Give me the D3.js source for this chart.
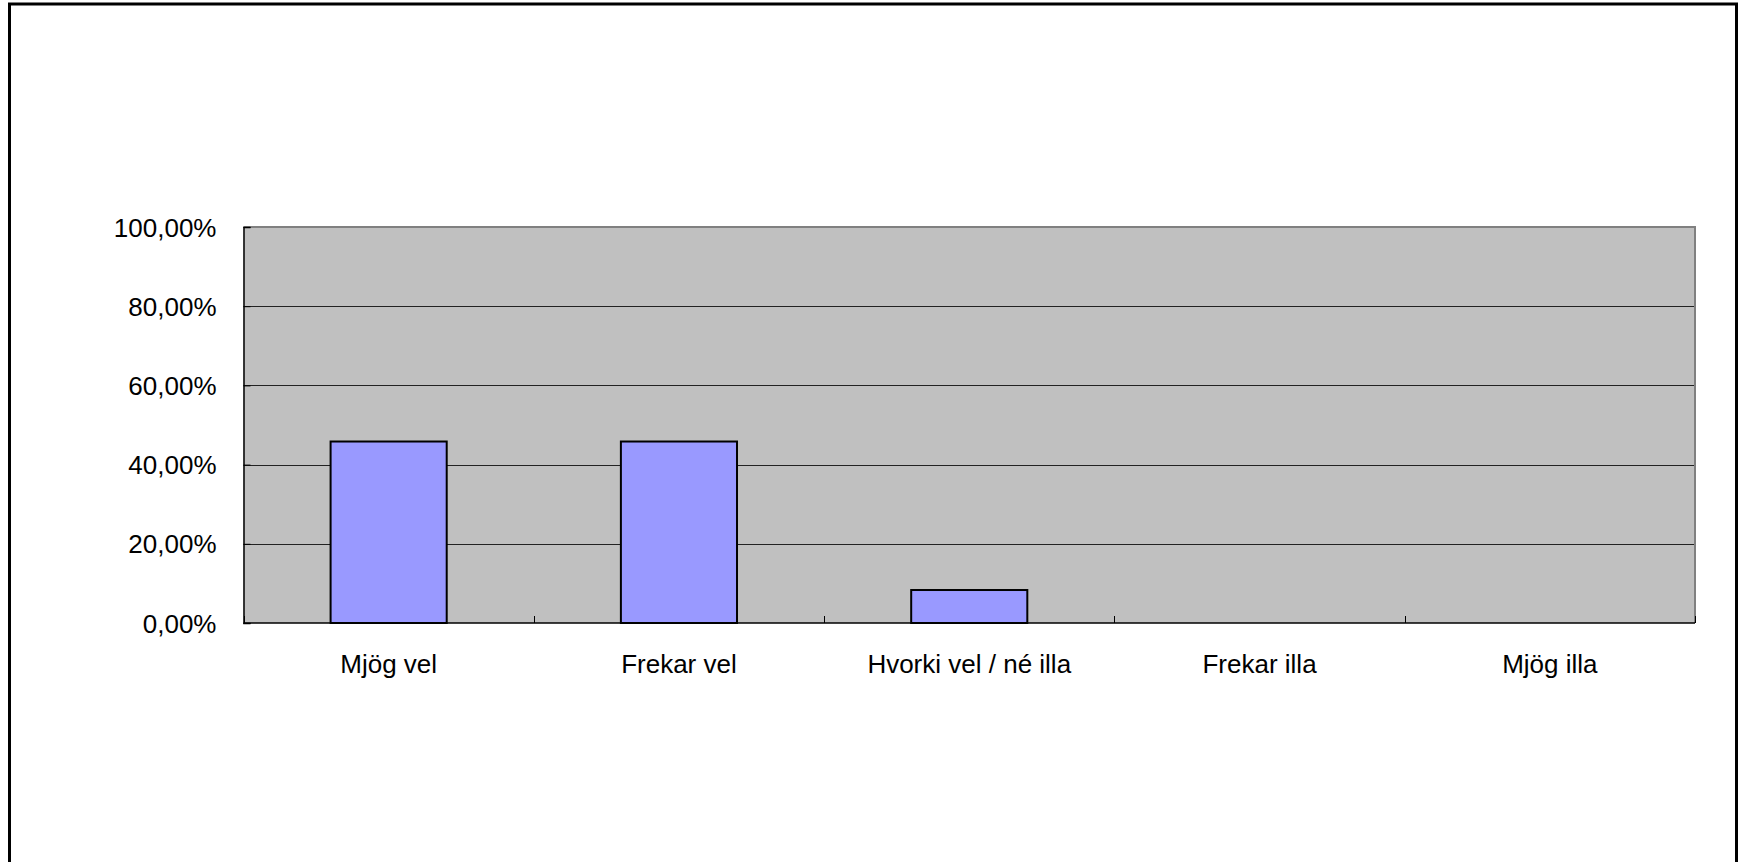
<!DOCTYPE html>
<html>
<head>
<meta charset="utf-8">
<script src="https://cdn.jsdelivr.net/npm/d3@7"></script>
<style>
  html, body { margin: 0; padding: 0; background: #fff; overflow: hidden; }
  svg text { font-family: "Liberation Sans", Arial, sans-serif; }
</style>
</head>
<body>
<div id="chart"></div>
<script>
const categories = ['Mjög vel', 'Frekar vel', 'Hvorki vel / né illa', 'Frekar illa', 'Mjög illa'];
const values = [0.4583, 0.4583, 0.0833, 0, 0];
const yTicks = [0, 0.2, 0.4, 0.6, 0.8, 1.0];

const W = 1745, H = 862;
const plot = { left: 243.5, top: 227, right: 1695, bottom: 623 };
const fontSize = 26;

const svg = d3.select('#chart').append('svg')
    .attr('width', W)
    .attr('height', H)
    .style('display', 'block');

// outer chart frame (bottom edge runs past the picture)
svg.append('rect')
    .attr('x', 9.5)
    .attr('y', 4)
    .attr('width', 1727)
    .attr('height', 880)
    .attr('fill', '#fff')
    .attr('stroke', '#000')
    .attr('stroke-width', 3);

const xScale = d3.scaleBand()
    .domain(categories)
    .range([plot.left, plot.right])
    .paddingInner(0)
    .paddingOuter(0);

const yScale = d3.scaleLinear()
    .domain([0, 1])
    .range([plot.bottom, plot.top]);

// plot area background
svg.append('rect')
    .attr('x', plot.left)
    .attr('y', plot.top)
    .attr('width', plot.right - plot.left)
    .attr('height', plot.bottom - plot.top)
    .attr('fill', '#c0c0c0');

// gridlines
svg.append('g')
    .selectAll('line')
    .data(yTicks.filter(d => d > 0 && d < 1))
    .enter().append('line')
    .attr('x1', plot.left)
    .attr('x2', plot.right)
    .attr('y1', d => Math.round(yScale(d)) + 0.5)
    .attr('y2', d => Math.round(yScale(d)) + 0.5)
    .attr('stroke', '#222')
    .attr('stroke-width', 1);

// plot area border (top + right in gray)
svg.append('path')
    .attr('d', `M${plot.left},${plot.top}H${plot.right}V${plot.bottom}`)
    .attr('fill', 'none')
    .attr('stroke', '#808080')
    .attr('stroke-width', 2);

// bars
const barW = xScale.bandwidth() * 0.4;
svg.append('g')
    .selectAll('rect')
    .data(categories.map((c, i) => ({ c, v: values[i] })).filter(d => d.v > 0))
    .enter().append('rect')
    .attr('x', d => xScale(d.c) + (xScale.bandwidth() - barW) / 2)
    .attr('y', d => yScale(d.v))
    .attr('width', barW)
    .attr('height', d => yScale(0) - yScale(d.v))
    .attr('fill', '#9999ff')
    .attr('stroke', '#000')
    .attr('stroke-width', 2);

// y axis
const yAxis = svg.append('g')
    .attr('transform', `translate(${plot.left},0)`)
    .call(d3.axisRight(yScale)
        .tickValues(yTicks)
        .tickSize(7)
        .tickFormat(d => d3.format('.2f')(d * 100).replace('.', ',') + '%'));
yAxis.select('.domain').attr('stroke', '#000').attr('stroke-width', 1.5);
yAxis.selectAll('.tick line').attr('stroke', '#000');
yAxis.selectAll('.tick text')
    .attr('x', -27)
    .attr('dy', '0.35em')
    .attr('text-anchor', 'end')
    .attr('fill', '#000')
    .style('font-size', fontSize + 'px');

// x axis, ticks between categories pointing inward
const boundaries = d3.range(categories.length + 1).map(i => plot.left + i * xScale.bandwidth());
const xAxis = svg.append('g');
xAxis.append('line')
    .attr('x1', plot.left)
    .attr('x2', plot.right)
    .attr('y1', plot.bottom)
    .attr('y2', plot.bottom)
    .attr('stroke', '#000')
    .attr('stroke-width', 1.5);
xAxis.selectAll('.xtick')
    .data(boundaries)
    .enter().append('line')
    .attr('class', 'xtick')
    .attr('x1', d => Math.round(d) + 0.5)
    .attr('x2', d => Math.round(d) + 0.5)
    .attr('y1', plot.bottom)
    .attr('y2', plot.bottom - 7)
    .attr('stroke', '#000');
xAxis.selectAll('.xlabel')
    .data(categories)
    .enter().append('text')
    .attr('class', 'xlabel')
    .attr('x', d => xScale(d) + xScale.bandwidth() / 2)
    .attr('y', 673)
    .attr('text-anchor', 'middle')
    .attr('fill', '#000')
    .style('font-size', fontSize + 'px')
    .text(d => d);
</script>
</body>
</html>
